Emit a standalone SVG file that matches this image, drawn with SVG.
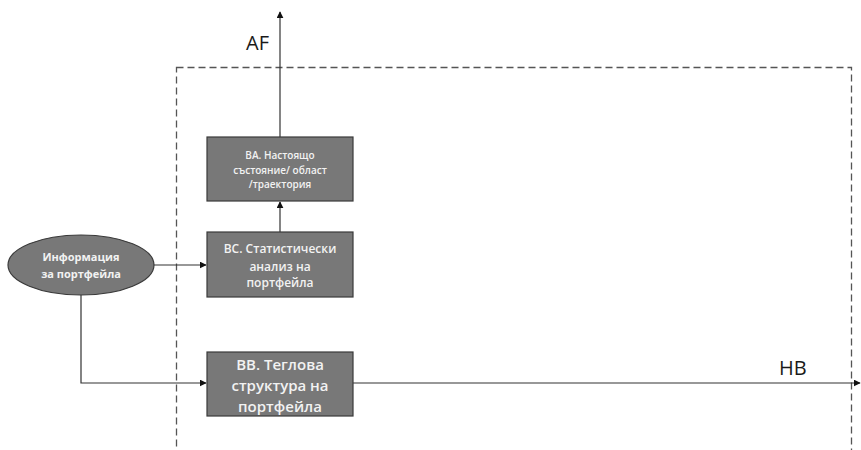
<svg xmlns="http://www.w3.org/2000/svg" width="861" height="450" viewBox="0 0 861 450">
  <style>
    .box { fill: #787878; stroke: #3a3a3a; stroke-width: 1.2; }
    .lbl { fill: #f2f2f2; font-family: "Open Sans", "Noto Sans", sans-serif; font-weight: 600; text-anchor: middle; dominant-baseline: central; }
    .lbl.strong { font-weight: 700; }
    .out { fill: #1a1a1a; font-family: "Open Sans", "Noto Sans", sans-serif; font-size: 20px; }
    .wire { fill: none; stroke: #333; stroke-width: 1.2; }
    .frame { fill: none; stroke: #555; stroke-width: 1.3; stroke-dasharray: 7 4; }
  </style>
  <defs>
    <marker id="arrow" viewBox="0 0 10 10" refX="9" refY="5" markerWidth="7" markerHeight="7" orient="auto" markerUnits="userSpaceOnUse">
      <path d="M0,0 L10,5 L0,10 z" fill="#111"/>
    </marker>
  </defs>

  <!-- dashed system boundary, open past the bottom edge -->
  <rect class="frame" x="176.5" y="67.5" width="675" height="400"/>

  <g id="connectors">
    <line class="wire" x1="154" y1="265" x2="206" y2="265" marker-end="url(#arrow)"/>
    <polyline class="wire" points="81,295 81,383 206,383" marker-end="url(#arrow)"/>
    <line class="wire" x1="280" y1="232" x2="280" y2="202" marker-end="url(#arrow)"/>
    <line class="wire" x1="280" y1="137" x2="280" y2="12" marker-end="url(#arrow)"/>
    <line class="wire" x1="353" y1="383" x2="860" y2="383" marker-end="url(#arrow)"/>
  </g>

  <g id="info">
    <ellipse cx="81" cy="265" rx="73" ry="30" class="box"/>
    <text class="lbl strong" font-size="11" x="81" y="256">Информация</text>
    <text class="lbl strong" font-size="11" x="81" y="273">за портфейла</text>
  </g>

  <g id="ba">
    <rect class="box" x="207" y="137" width="146" height="64"/>
    <text class="lbl" font-size="10" x="280" y="155">BA. Настоящо</text>
    <text class="lbl" font-size="10" x="280" y="170">състояние/ област</text>
    <text class="lbl" font-size="10" x="280" y="184">/траектория</text>
  </g>

  <g id="bc">
    <rect class="box" x="207" y="232" width="146" height="65"/>
    <text class="lbl" font-size="12" x="280" y="248">BC. Статистически</text>
    <text class="lbl" font-size="12" x="280" y="266">анализ на</text>
    <text class="lbl" font-size="12" x="280" y="282">портфейла</text>
  </g>

  <g id="bb">
    <rect class="box" x="207" y="352" width="146" height="64"/>
    <text class="lbl" font-size="15" x="280" y="364">BB. Теглова</text>
    <text class="lbl" font-size="15" x="280" y="385">структура на</text>
    <text class="lbl" font-size="15" x="280" y="406">портфейла</text>
  </g>

  <g id="outputs">
    <text class="out" x="246" y="50">AF</text>
    <text class="out" x="779" y="375">HB</text>
  </g>
</svg>
